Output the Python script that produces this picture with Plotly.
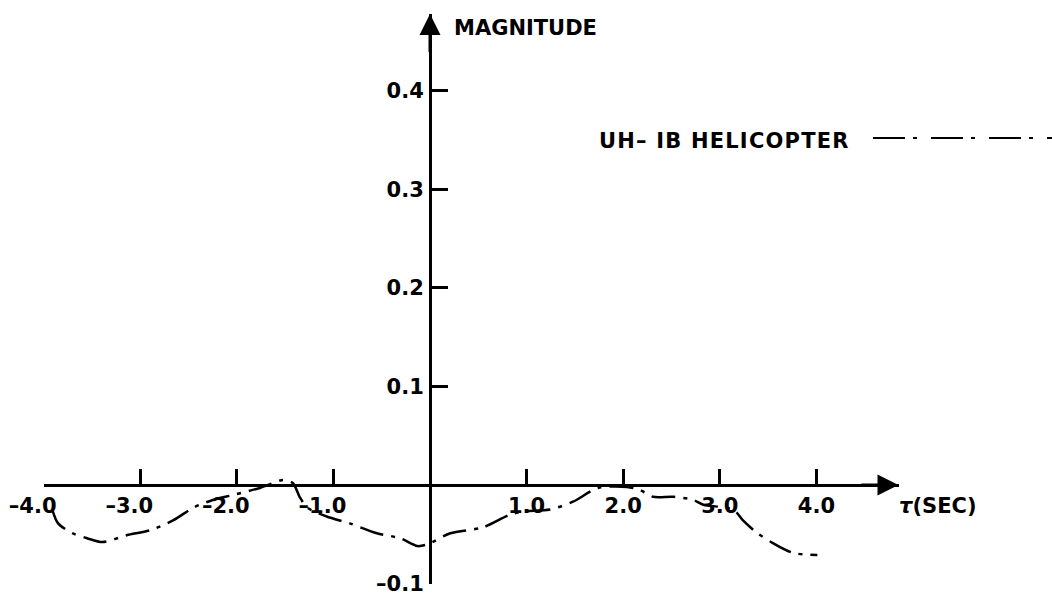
import plotly.graph_objects as go

# ---- data ----
tau = [-3.91, -3.85, -3.70, -3.55, -3.39, -3.14, -2.90, -2.66, -2.45, -2.24, -2.03,
       -1.76, -1.52, -1.42, -1.35, -1.27, -1.07, -0.83, -0.55, -0.31, -0.13, -0.02,
       0.21, 0.55, 0.83, 0.96, 1.24, 1.48, 1.74, 2.04, 2.17, 2.31, 2.52, 2.72, 2.83,
       3.14, 3.24, 3.39, 3.55, 3.76, 4.01]
mag = [-0.025, -0.039, -0.049, -0.054, -0.058, -0.051, -0.046, -0.036, -0.023, -0.015, -0.010,
       -0.003, 0.005, 0.002, -0.012, -0.023, -0.032, -0.039, -0.049, -0.054, -0.062, -0.060,
       -0.049, -0.043, -0.030, -0.027, -0.025, -0.017, -0.003, -0.002, -0.005, -0.012, -0.012,
       -0.015, -0.020, -0.025, -0.036, -0.049, -0.059, -0.069, -0.071]

x_ticks = [-4, -3, -2, -1, 1, 2, 3, 4]
x_labels = ["–4.0", "–3.0", "–2.0", "–1.0", "1.0", "2.0", "3.0", "4.0"]
y_ticks = [-0.1, 0.1, 0.2, 0.3, 0.4]
y_labels = ["–0.1", "0.1", "0.2", "0.3", "0.4"]
x_range = [-4.0, 4.85]
y_range = [-0.1, 0.478]
series_name = "UH– IB HELICOPTER"
y_title = "MAGNITUDE"
x_title = "<i>τ</i>(SEC)"

# ---- layout geometry ----
W, H = 1052, 596
x_px = (43.6, 898.5)
y_px = (583.5, 14.0)
xdom = [x_px[0] / W, x_px[1] / W]
ydom = [(H - y_px[0]) / H, (H - y_px[1]) / H]
x0_frac = xdom[0] + (0 - x_range[0]) / (x_range[1] - x_range[0]) * (xdom[1] - xdom[0])
y0_frac = ydom[0] + (0 - y_range[0]) / (y_range[1] - y_range[0]) * (ydom[1] - ydom[0])

FONT = "DejaVu Sans"
pad = "\u00a0" * 3
x_text = ["<b>" + (t + pad if t.startswith("–") else t) + "</b>" for t in x_labels]
y_text = ["<b>" + t + "</b>" for t in y_labels]

fig = go.Figure()
fig.add_trace(go.Scatter(
    x=tau, y=mag, mode="lines", name=series_name,
    line=dict(color="black", width=2.5, dash="24px,8px,4px,8px",
              shape="spline", smoothing=0.8),
    hoverinfo="skip", showlegend=False,
))

fig.update_layout(
    width=W, height=H,
    margin=dict(l=0, r=0, t=0, b=0, autoexpand=False),
    paper_bgcolor="white", plot_bgcolor="white",
    font=dict(family=FONT, color="black", size=21),
    showlegend=False,
    xaxis=dict(
        domain=xdom, range=x_range, anchor="free", position=y0_frac,
        automargin=False,
        showline=True, linewidth=3, linecolor="black",
        ticks="inside", ticklen=15, tickwidth=2.5, tickcolor="black",
        tickvals=x_ticks, ticktext=x_text, ticklabelstandoff=1,
        tickfont=dict(family=FONT, size=21, color="black"),
        showgrid=False, zeroline=False, fixedrange=True,
    ),
    yaxis=dict(
        domain=ydom, range=y_range, anchor="free", position=x0_frac,
        automargin=False,
        showline=True, linewidth=3, linecolor="black",
        ticks="inside", ticklen=16, tickwidth=2.5, tickcolor="black",
        tickvals=y_ticks, ticktext=y_text, ticklabelstandoff=1,
        tickfont=dict(family=FONT, size=21, color="black"),
        showgrid=False, zeroline=False, fixedrange=True,
    ),
)

# arrowheads on the axes
fig.add_annotation(x=x_range[1], y=0, ax=x_range[1] - 0.4, ay=0, xref="x", yref="y",
                   axref="x", ayref="y", showarrow=True, arrowhead=2, arrowsize=1.4,
                   arrowwidth=3, arrowcolor="black", text="")
fig.add_annotation(x=0, y=y_range[1], ax=0, ay=y_range[1] - 0.04, xref="x", yref="y",
                   axref="x", ayref="y", showarrow=True, arrowhead=2, arrowsize=1.4,
                   arrowwidth=3, arrowcolor="black", text="")

# axis titles
fig.add_annotation(x=452 / W, y=(H - 28) / H, xref="paper", yref="paper",
                   text="<b>" + y_title + "</b>", showarrow=False, xanchor="left",
                   yanchor="middle", font=dict(family=FONT, size=21, color="black"))
fig.add_annotation(x=897 / W, y=(H - 506) / H, xref="paper", yref="paper",
                   text="<b>" + x_title + "</b>", showarrow=False, xanchor="left",
                   yanchor="middle", font=dict(family=FONT, size=21, color="black"))

# legend key
fig.add_annotation(x=597 / W, y=(H - 141) / H, xref="paper", yref="paper",
                   text='<b><span style="letter-spacing:1.2px">' + series_name + '</span></b>',
                   showarrow=False, xanchor="left", yanchor="middle",
                   font=dict(family=FONT, size=21, color="black"))
fig.add_shape(type="line", xref="paper", yref="paper",
              x0=873 / W, x1=1.0, y0=(H - 138) / H, y1=(H - 138) / H,
              line=dict(color="black", width=2.2, dash="32px,8px,4px,14px"))

fig.write_html("out.html", config={"displayModeBar": False},
               post_script="document.body.style.margin='0px';")
